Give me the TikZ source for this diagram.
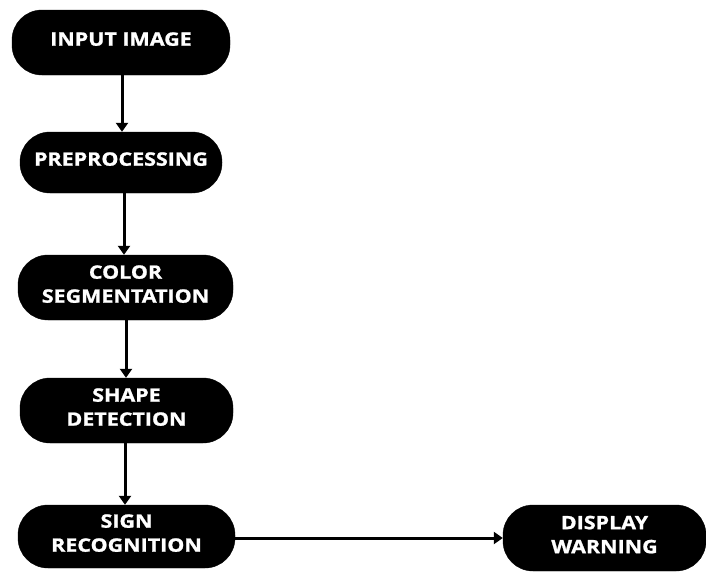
\documentclass[tikz,border=0pt]{standalone}
\usepackage{fontspec}
\setmainfont{Open Sans}[BoldFeatures={FakeBold=1.2,FakeStretch=1.16}]
\usetikzlibrary{arrows.meta}
\begin{document}
\begin{tikzpicture}[x=1pt,y=-1pt,
  box/.style={rectangle, rounded corners=30pt, fill=black, draw=black, text=white,
    font=\bfseries\fontsize{18.5}{24}\selectfont, align=center, inner sep=0pt, text depth=7pt},
  flow/.style={-{Triangle[length=9pt,width=12pt]}, line width=3pt, black}]
\useasboundingbox (0,0) rectangle (706,571);
\node[box, minimum width=218pt, minimum height=65pt] (in) at (121,42.5) {INPUT IMAGE};
\node[box, minimum width=202pt, minimum height=61pt] (pre) at (121,162.5) {PREPROCESSING};
\node[box, minimum width=215pt, minimum height=65pt] (col) at (125.5,287.5) {COLOR\\SEGMENTATION};
\node[box, minimum width=213pt, minimum height=65pt] (shp) at (126.5,410.5) {SHAPE\\DETECTION};
\node[box, minimum width=217pt, minimum height=63pt] (sgn) at (126.5,536.5) {SIGN\\RECOGNITION};
\node[box, minimum width=203pt, minimum height=66pt] (dsp) at (604.5,538) {DISPLAY\\WARNING};
\draw[flow] (in.south -| 122,0) -- (pre.north -| 122,0);
\draw[flow] (pre.south -| 124,0) -- (col.north -| 124,0);
\draw[flow] (col.south -| 126,0) -- (shp.north -| 126,0);
\draw[flow] (shp.south -| 125,0) -- (sgn.north -| 125,0);
\draw[flow] (sgn.east |- 0,538) -- (dsp.west |- 0,538);
\end{tikzpicture}
\end{document}
